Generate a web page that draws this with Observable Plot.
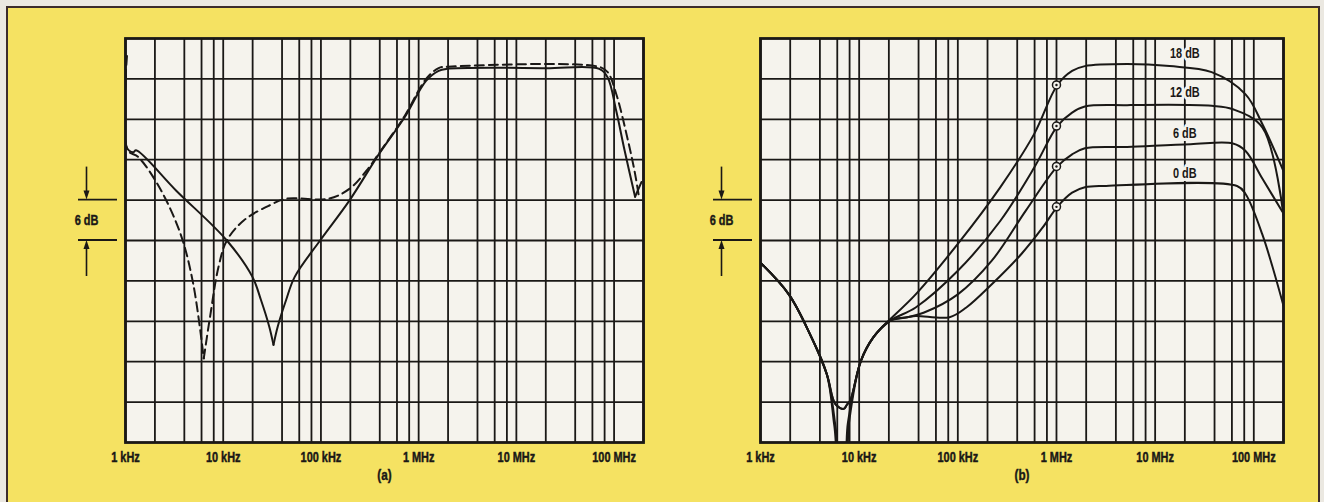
<!DOCTYPE html>
<html><head><meta charset="utf-8">
<script src="https://cdn.jsdelivr.net/npm/d3@7"></script>
<script src="https://cdn.jsdelivr.net/npm/@observablehq/plot@0.6"></script>
<style>
body{margin:0;background:#ebe8e1;}
#page{position:relative;width:1324px;height:502px;overflow:hidden;background:#ebe8e1;}
#yellow{position:absolute;left:6px;top:6px;width:1310px;height:510px;background:#f5e262;border:2px solid #3c2c2c;}
.panel{position:absolute;top:0;}
#pa{left:0;} #pb{left:662px;}
</style></head><body>
<div id="page"><div id="yellow"></div><div id="pa" class="panel"></div><div id="pb" class="panel"></div></div>
<script>
// ---------- axis / grid values ----------
const xTicks = [1e3, 1e4, 1e5, 1e6, 1e7, 1e8];
const xTickLabels = ["1 kHz", "10 kHz", "100 kHz", "1 MHz", "10 MHz", "100 MHz"];
const gridMultipliers = [1, 2, 4, 6, 8];
const xDomain = [1e3, 2e8];
const yDomain = [-60, 0];
const gridDb = [-6, -12, -18, -24, -30, -36, -42, -48, -54];
const markerDb = [-24, -30];

// ---------- panel (a) ----------
const aSolidFreq = [1010, 1022, 1197, 1283, 3306, 10900, 19900, 24300, 29600, 32700, 36100, 44100, 53900, 98000, 197000, 395000, 719000, 1190000, 1600000, 1950000, 20e6, 70.5e6, 86e6, 105e6, 128e6, 164e6, 191e6];
const aSolidDb   = [-5.5, -16.1, -16.9, -16.6, -22.6, -30.0, -35.4, -38.8, -42.8, -45.5, -42.8, -38.8, -35.4, -30.0, -24.0, -17.1, -11.7, -6.3, -4.8, -4.5, -4.4, -4.5, -5.8, -10.7, -16.6, -23.5, -21.3];
const aSolidCusps = [32700, 164e6];
const aDashFreq = [1035, 1055, 1349, 2219, 3652, 4928, 6323, 7340, 8957, 10900, 16300, 29600, 44100, 119600, 197000, 294000, 395000, 719000, 1190000, 1600000, 2000000, 70e6, 86e6, 105e6, 139e6, 164e6, 181e6];
const aDashDb   = [-2.6, -16.6, -17.6, -22.1, -29.0, -36.4, -47.5, -41.3, -33.9, -30.0, -27.0, -24.8, -23.8, -23.8, -22.3, -19.6, -17.0, -11.5, -6.0, -4.4, -4.2, -4.2, -5.0, -8.2, -15.2, -20.1, -23.8];
const aDashCusps = [6323];

// ---------- panel (b) ----------
const bSeries = ["18 dB", "12 dB", "6 dB", "0 dB"];
const b18Freq = [1000, 1936, 3170, 4710, 5600, 6300, 7000, 7700, 10400, 13900, 17000, 37400, 100000, 269000, 593000, 1020000, 1440000, 1940000, 5200000, 14e6, 37.4e6, 82.5e6, 122e6, 200e6];
const b18Db   = [-33.3, -38.0, -43.9, -49.9, -57.5, -63, -63, -57, -47.9, -44.4, -42.9, -38.0, -30.5, -22.1, -14.2, -6.9, -4.8, -4.1, -3.8, -4.1, -5.0, -8.3, -12.7, -19.7];
const b12Freq = [1000, 1936, 3170, 4710, 5800, 6500, 7200, 7900, 10400, 13900, 20700, 37400, 100000, 269000, 593000, 1020000, 1440000, 1940000, 5200000, 37.4e6, 61.4e6, 122e6, 200e6];
const b12Db   = [-33.3, -38.0, -43.9, -49.9, -58, -64, -64, -57, -47.9, -44.4, -41.9, -39.95, -34.5, -27.1, -19.2, -13.0, -11.0, -10.1, -9.9, -10.0, -10.5, -13.2, -26.3];
const b6Freq = [1000, 1936, 3170, 4710, 5740, 6990, 7500, 8100, 10400, 13900, 20700, 30700, 45600, 100000, 221000, 487000, 1020000, 1440000, 1940000, 5200000, 22.9e6, 61.4e6, 82.5e6, 122e6, 200e6];
const b6Db   = [-33.3, -38.0, -43.9, -49.9, -54.3, -55.0, -54.4, -53.8, -47.9, -44.4, -41.9, -41.4, -40.7, -38.0, -33.0, -25.6, -19.0, -17.2, -16.3, -16.1, -15.7, -15.6, -16.7, -20.8, -26.0];
const b0Freq = [1000, 1936, 3170, 4710, 5740, 6990, 7500, 8100, 10400, 13900, 20700, 30700, 37400, 82400, 122000, 221000, 441000, 722000, 1020000, 1440000, 1940000, 3180000, 67.7e6, 82.5e6, 122e6, 200e6];
const b0Db   = [-33.3, -38.0, -43.9, -49.9, -54.3, -55.0, -54.4, -53.8, -47.9, -44.4, -41.9, -41.4, -41.2, -41.4, -39.95, -36.5, -32.0, -28.1, -25.0, -22.9, -22.1, -21.9, -21.9, -23.1, -29.1, -39.7];
const bMarkFreq = [1e6, 1e6, 1e6, 1e6];
const bMarkDb = [-6.9, -13.0, -19.0, -25.0];
const bLabelFreq = [20e6, 20e6, 20e6, 20e6];
const bLabelDb = [-2.2, -8.0, -14.1, -20.0];

// ---------- styling ----------
const INK = "#1a1816";
const PAPER = "#f5f3ed";
const FONT = "'Liberation Sans',Arial,sans-serif";
const CONDENSE = 0.78;

const gridX = [];
for (let e = 3; e <= 8; e++) for (const m of gridMultipliers) { const v = m * 10 ** e; if (v <= xDomain[1]) gridX.push(v); }

const labelMap = new Map(xTicks.map((t, i) => [t, xTickLabels[i]]));

// build rows, splitting a curve into segments at its sharp cusps
function rows(fs, ds, cusps = [], name = "") {
  const out = [];
  let seg = 0;
  fs.forEach((f, i) => {
    out.push({f, db: ds[i], s: name + "#" + seg});
    if (cusps.includes(f)) { seg++; out.push({f, db: ds[i], s: name + "#" + seg}); }
  });
  return out;
}

function condense(svg) {
  svg.querySelectorAll("text").forEach(t => {
    const tr = t.getAttribute("transform") || "";
    const x = t.getAttribute("x");
    if (x != null && !isNaN(+x)) t.setAttribute("x", +x / CONDENSE);
    t.setAttribute("transform", `${tr} scale(${CONDENSE},1)`);
    t.setAttribute("font-weight", "bold");
    const halo = t.closest("g[stroke]");
    if (!halo || halo.getAttribute("stroke") !== PAPER) {
      t.setAttribute("stroke", INK);
      t.setAttribute("stroke-width", 0.45);
    }
  });
}

function basePanel({marginLeft, marginRight, marks, panelLabel}) {
  return Plot.plot({
    width: 662, height: 502,
    marginLeft, marginRight, marginTop: 38, marginBottom: 60,
    x: {type: "log", domain: xDomain},
    y: {domain: yDomain},
    style: {background: "transparent", color: INK, fontFamily: FONT, fontWeight: "bold", overflow: "visible"},
    marks: [
      Plot.frame({fill: PAPER, stroke: "none"}),
      Plot.ruleX(gridX, {stroke: INK, strokeWidth: 1.8}),
      Plot.ruleY(gridDb, {stroke: INK, strokeWidth: 1.8}),
      ...marks,
      Plot.frame({stroke: INK, strokeWidth: 2.8}),
      Plot.axisX(xTicks, {tickSize: 0, tickPadding: 10, tickFormat: d => labelMap.get(d), fontSize: 14, fontWeight: "bold", label: null}),
      Plot.axisY([], {label: null}),
      Plot.text([panelLabel], {frameAnchor: "bottom", dy: 37, fontSize: 15, fontWeight: "bold", fill: INK})
    ]
  });
}

function addMarker(chart, marginLeft) {
  const y = chart.scale("y");
  const svg = d3.select(chart);
  const g = svg.append("g").attr("stroke", INK).attr("fill", INK);
  const y1 = y.apply(markerDb[0]), y2 = y.apply(markerDb[1]);
  const ax = marginLeft - 38.5;
  for (const yy of [y1, y2]) g.append("line").attr("x1", marginLeft - 47).attr("x2", marginLeft - 8).attr("y1", yy).attr("y2", yy).attr("stroke-width", 1.8);
  g.append("line").attr("x1", ax).attr("x2", ax).attr("y1", y1 - 33).attr("y2", y1 - 8).attr("stroke-width", 1.6);
  g.append("path").attr("d", `M${ax - 3},${y1 - 9}L${ax + 3},${y1 - 9}L${ax},${y1}Z`).attr("stroke", "none");
  g.append("line").attr("x1", ax).attr("x2", ax).attr("y1", y2 + 8).attr("y2", y2 + 36).attr("stroke-width", 1.6);
  g.append("path").attr("d", `M${ax - 3},${y2 + 9}L${ax + 3},${y2 + 9}L${ax},${y2}Z`).attr("stroke", "none");
  svg.append("text").attr("transform", `translate(${ax},${(y1 + y2) / 2})`).attr("dy", "0.35em").attr("text-anchor", "middle")
    .attr("font-family", FONT).attr("font-weight", "bold").attr("font-size", 14).attr("fill", INK).text("6 dB");
}

// panel (a)
const aLeft = 125, aRight = 19;
const chartA = basePanel({
  marginLeft: aLeft, marginRight: aRight, panelLabel: "(a)",
  marks: [
    Plot.line(rows(aSolidFreq, aSolidDb, aSolidCusps, "solid"), {x: "f", y: "db", z: "s", stroke: INK, strokeWidth: 2, curve: "catmull-rom", clip: true}),
    Plot.line(rows(aDashFreq, aDashDb, aDashCusps, "dash"), {x: "f", y: "db", z: "s", stroke: INK, strokeWidth: 2, strokeDasharray: "9,5", curve: "catmull-rom", clip: true})
  ]
});
document.getElementById("pa").append(chartA);
addMarker(chartA, aLeft);
condense(chartA);

// panel (b)
const bLeft = 98, bRight = 41;
const bData = [
  ...rows(b18Freq, b18Db, [], bSeries[0]),
  ...rows(b12Freq, b12Db, [], bSeries[1]),
  ...rows(b6Freq, b6Db, [], bSeries[2]),
  ...rows(b0Freq, b0Db, [], bSeries[3])
];
const chartB = basePanel({
  marginLeft: bLeft, marginRight: bRight, panelLabel: "(b)",
  marks: [
    Plot.line(bData, {x: "f", y: "db", z: "s", stroke: INK, strokeWidth: 2, curve: "catmull-rom", clip: true}),
    Plot.dot(rows(bMarkFreq, bMarkDb), {x: "f", y: "db", r: 4, stroke: INK, strokeWidth: 1.5, fill: PAPER}),
    Plot.dot(rows(bMarkFreq, bMarkDb), {x: "f", y: "db", r: 1.2, fill: INK}),
    Plot.text(rows(bLabelFreq, bLabelDb).map((d, i) => ({...d, t: bSeries[i]})), {x: "f", y: "db", text: "t", fontSize: 14, fontWeight: "bold", fill: INK, stroke: PAPER, strokeWidth: 6})
  ]
});
document.getElementById("pb").append(chartB);
addMarker(chartB, bLeft);
condense(chartB);
</script>
</body></html>
